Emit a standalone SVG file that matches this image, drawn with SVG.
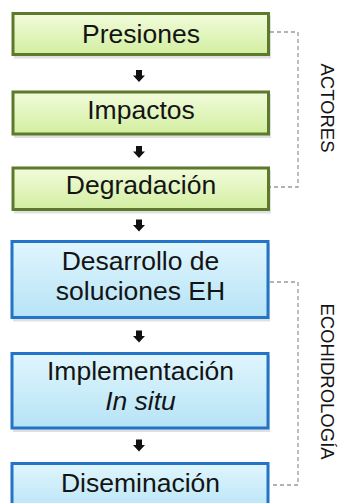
<svg xmlns="http://www.w3.org/2000/svg" width="341" height="503" viewBox="0 0 341 503">
<defs>
<linearGradient id="gGreen" x1="0" y1="0" x2="0" y2="1">
<stop offset="0" stop-color="#f2fcdc"/>
<stop offset="1" stop-color="#d2eea0"/>
</linearGradient>
<linearGradient id="gBlue" x1="0" y1="0" x2="0" y2="1">
<stop offset="0" stop-color="#e0f6fd"/>
<stop offset="1" stop-color="#b6e3f6"/>
</linearGradient>
<polygon id="arr" points="-3,0 3,0 3,5.5 6,5.5 0,12 -6,5.5 -3,5.5"/>
</defs>
<style>
.green{fill:url(#gGreen);stroke:#5c7a2c;stroke-width:3}
.blue{fill:url(#gBlue);stroke:#2374c6;stroke-width:3}
.shadow{fill:#000;opacity:0.12}
.lbl{font-family:"Liberation Sans",Arial,sans-serif;font-size:26.5px;fill:#141414;text-anchor:middle}
.side{font-family:"Liberation Sans",Arial,sans-serif;font-size:18.5px;fill:#141414;text-anchor:middle}
.dash{fill:none;stroke:#9a9a9a;stroke-width:1.3;stroke-dasharray:4,3}
.arrow{fill:#111}
</style>
<rect width="341" height="503" fill="#ffffff"/>

<g id="connectors">
<use href="#arr" class="arrow" x="139" y="70"/>
<use href="#arr" class="arrow" x="139" y="146"/>
<use href="#arr" class="arrow" x="139" y="219.5"/>
<use href="#arr" class="arrow" x="139" y="330.5"/>
<use href="#arr" class="arrow" x="139" y="439.5"/>
<path class="dash" d="M270,32 H298 V187 H270"/>
<path class="dash" d="M270,282 H298 V485 H270"/>
</g>

<g id="presiones">
<rect class="shadow" x="14" y="15.5" width="257" height="43"/>
<rect class="green" x="13" y="13.5" width="255.5" height="41"/>
<text class="lbl" x="141" y="43">Presiones</text>
</g>
<g id="impactos">
<rect class="shadow" x="14" y="94" width="257" height="44"/>
<rect class="green" x="13" y="92" width="255.5" height="42"/>
<text class="lbl" x="141" y="118.5">Impactos</text>
</g>
<g id="degradacion">
<rect class="shadow" x="14" y="170" width="257" height="43.5"/>
<rect class="green" x="13" y="168" width="255.5" height="41.5"/>
<text class="lbl" x="141" y="194">Degradación</text>
</g>
<g id="desarrollo">
<rect class="shadow" x="13" y="243.5" width="257" height="78"/>
<rect class="blue" x="12" y="241.5" width="256" height="76"/>
<text class="lbl" x="140.5" y="270">Desarrollo de</text>
<text class="lbl" x="140.5" y="299.5">soluciones EH</text>
</g>
<g id="implementacion">
<rect class="shadow" x="13" y="355.5" width="257" height="76.5"/>
<rect class="blue" x="12" y="353.5" width="256" height="74.5"/>
<text class="lbl" x="140.5" y="380">Implementación</text>
<text class="lbl" x="140.5" y="409.5" font-style="italic">In situ</text>
</g>
<g id="diseminacion">
<rect class="blue" x="12" y="463.5" width="256" height="50"/>
<text class="lbl" x="140.5" y="492">Diseminación</text>
</g>

<g id="actores">
<text class="side" transform="translate(320.5,108) rotate(90)">ACTORES</text>
</g>
<g id="ecohidrologia">
<text class="side" transform="translate(320.5,381.5) rotate(90)">ECOHIDROLOGÍA</text>
</g>
</svg>
